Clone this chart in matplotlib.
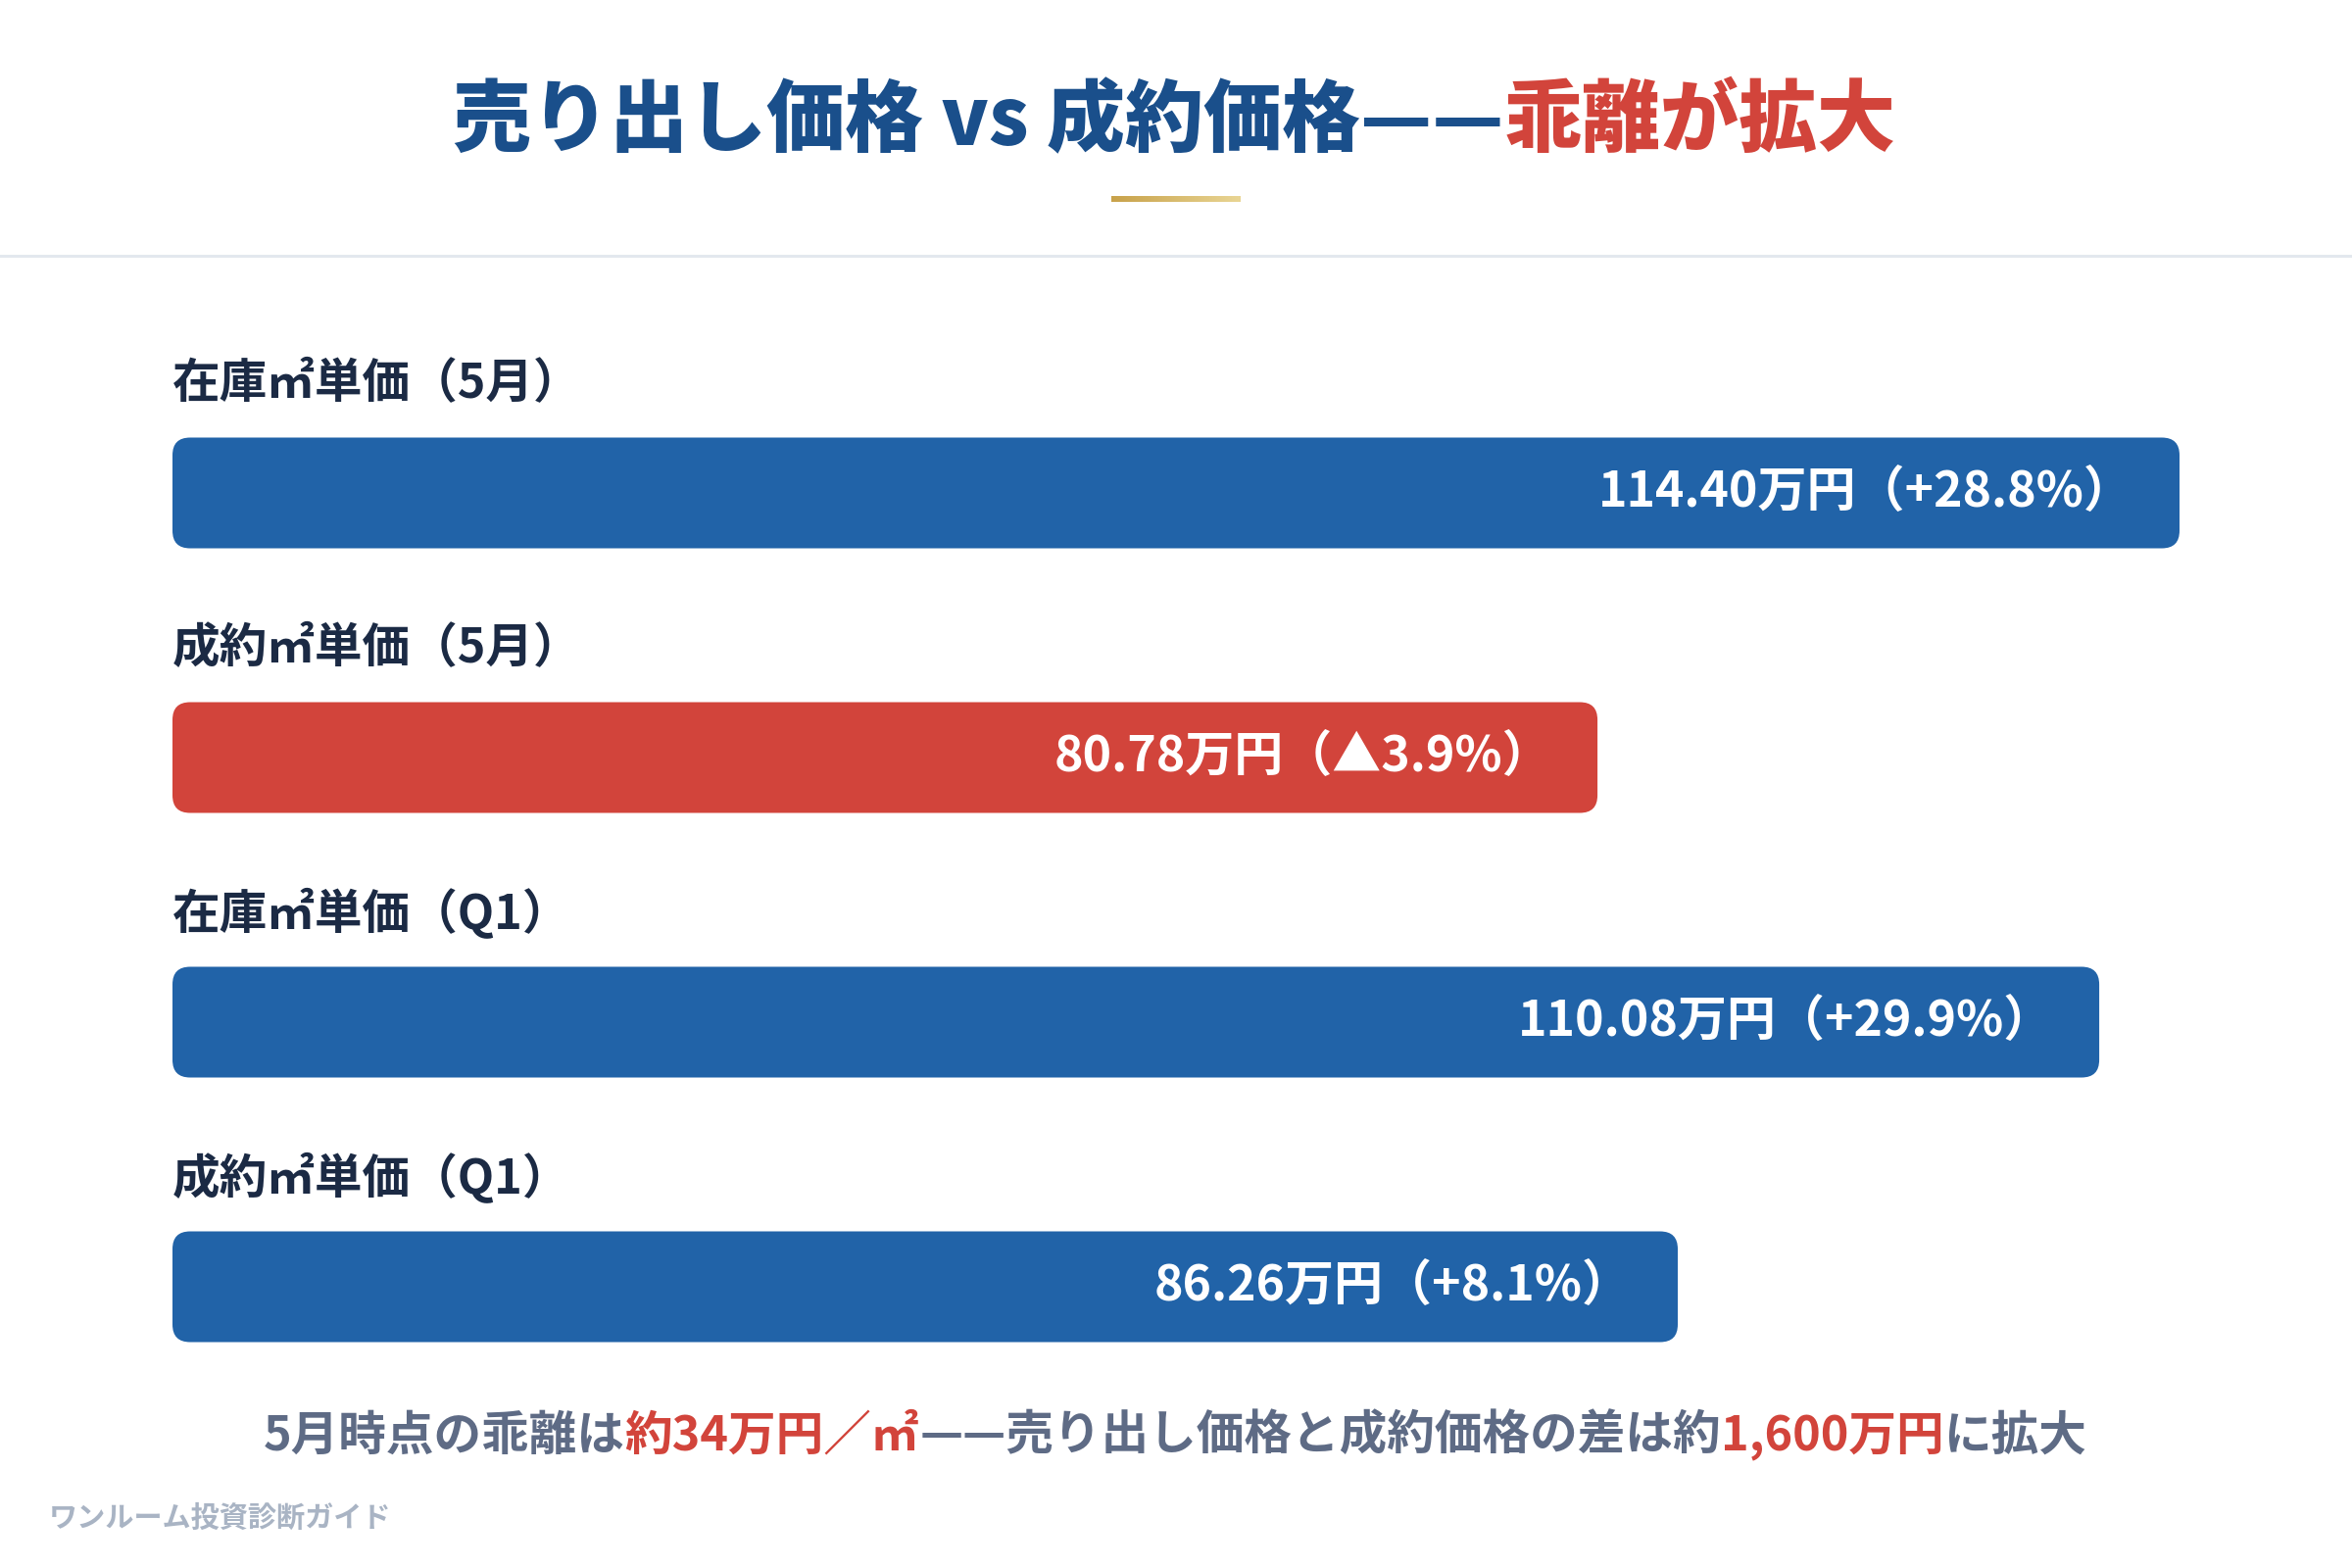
import numpy as np
import matplotlib
matplotlib.use("Agg")
import matplotlib.pyplot as plt
from matplotlib.patches import FancyBboxPatch
from matplotlib.colors import LinearSegmentedColormap

plt.rcParams['font.family'] = ['Noto Sans CJK JP', 'DejaVu Sans']

# data
labels = ["在庫㎡単価（5月）", "成約㎡単価（5月）", "在庫㎡単価（Q1）", "成約㎡単価（Q1）"]
values = [114.40, 80.78, 110.08, 86.26]
changes = ["+28.8%", "▲3.9%", "+29.9%", "+8.1%"]
bar_colors = ["#2163A8", "#D2443B", "#2163A8", "#2163A8"]

title_parts = [("売り出し価格 vs 成約価格——", "#1A4F8B"), ("乖離が拡大", "#D2443B")]
note_parts = [("5月時点の乖離は", "#5E6B85"), ("約34万円／㎡", "#D2443B"),
              ("——売り出し価格と成約価格の差は約", "#5E6B85"), ("1,600万円", "#D2443B"),
              ("に拡大", "#5E6B85")]
footer = "ワンルーム投資診断ガイド"

W, H = 2400, 1600
fig = plt.figure(figsize=(12, 8), dpi=200)
fig.patch.set_facecolor("white")
renderer = fig.canvas.get_renderer()


def line_of_text(parts, cx, cy, size, weight='bold'):
    # draw coloured pieces side by side, centred on cx (pixels)
    texts = []
    total = 0
    for s, c in parts:
        t = fig.text(0, 1 - cy / H, s, color=c, fontsize=size, fontweight=weight,
                     va='center', ha='left')
        w = t.get_window_extent(renderer).width
        texts.append((t, w))
        total += w
    x = cx - total / 2
    for t, w in texts:
        t.set_x(x / W)
        x += w


# title + gold rule + separator
line_of_text(title_parts, 1198, 124, 28.8, weight='heavy')

gold = LinearSegmentedColormap.from_list("gold", ["#C8A24A", "#E9D594"])
gax = fig.add_axes([1134 / W, 1 - 206 / H, 132 / W, 6 / H])
gax.imshow(np.linspace(0, 1, 100)[None, :], aspect='auto', cmap=gold)
gax.axis('off')

fig.add_artist(plt.Line2D([0, 1], [1 - 261 / H] * 2, color="#E3E8EE", lw=1.1))

# bars: width as whole percent of the largest value
pct = [round(v / max(values) * 100) for v in values]
x0, x1 = 176, 2224
ax = fig.add_axes([x0 / W, 1 - 1402 / H, (x1 - x0) / W, (1402 - 415) / H])
step = 270.0
top = (503 - 415) / step
bottom = (1402 - 503) / step
ax.set_xlim(0, 100)
ax.set_ylim(bottom, -top)
ax.axis('off')

bh = 113 / step
px_x = (x1 - x0) / 100
r = 18 / px_x
for i, (lab, v, p_, ch, c) in enumerate(zip(labels, values, pct, changes, bar_colors)):
    p = FancyBboxPatch((0, i - bh / 2), p_, bh,
                       boxstyle=f"round,pad=0,rounding_size={r}",
                       mutation_aspect=px_x / step, fc=c, ec='none')
    ax.add_patch(p)
    ax.text(0, i - 111 / step, lab, fontsize=17.5, fontweight='bold', color="#1B2A44",
            ha='left', va='center', clip_on=False)
    ax.annotate(f"{v:.2f}万円（{ch}）", xy=(p_, i), xytext=(-17, 0), textcoords='offset points',
                ha='right', va='center', fontsize=18, fontweight='bold', color='white')

# bottom note and footer
line_of_text(note_parts, 1199, 1465, 17.5)
fig.text(50 / W, 1 - 1549 / H, footer, fontsize=10.5, fontweight='bold', color="#A9B4C4",
         ha='left', va='center')

fig.savefig("out.png", dpi=200, facecolor="white")
